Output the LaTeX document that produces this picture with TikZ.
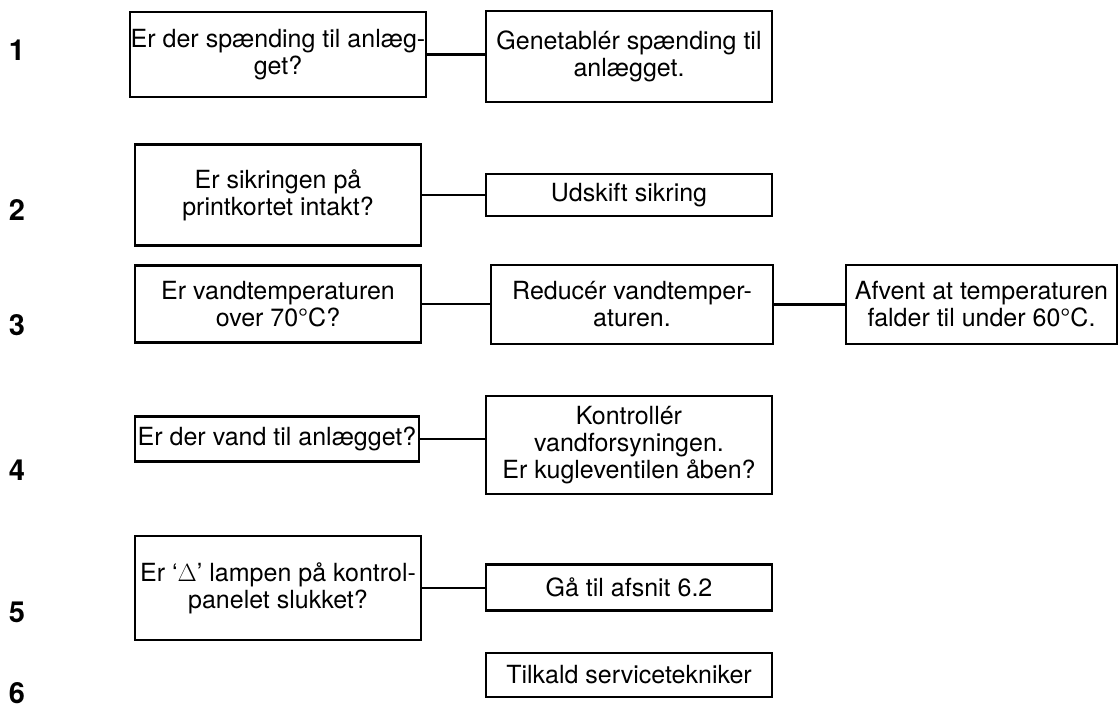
\documentclass[tikz,border=0pt]{standalone}
\usepackage{fontspec}
\setmainfont{TeX Gyre Heros}
\usetikzlibrary{positioning}

\begin{document}
\begin{tikzpicture}[x=1pt, y=1pt, line width=2.3pt]
 % Define block styles
	\tikzstyle{block} = [rectangle, draw, align=center, inner sep=1pt, font=\fontsize{25}{27}\selectfont]
	\tikzstyle{trin} = [font=\bfseries\fontsize{29}{29}\selectfont]
	\tikzstyle{line} = [draw]
	\useasboundingbox (0,0) rectangle (1118,715);
%%====Numre i venstre side===============================================================
	\node	[trin]	(t1)	at (17,665)	{1};
	\node	[trin]	(t2)	at (17,505)	{2};
	\node	[trin]	(t3)	at (17,390)	{3};
	\node	[trin]	(t4)	at (17,245)	{4};
	\node	[trin]	(t5)	at (17,103)	{5};
	\node	[trin]	(t6)	at (17,22)	{6};
%%====Spoergsmaal og handlinger===============================================================
	\node	[block, minimum width=286pt, minimum height=85pt]	(spaending)	at (278,660.5)	{Er der spænding til anlæg-\\get?};
	\node	[block, minimum width=286pt, minimum height=91pt]	(genetabler)	at (629,658.5)	{Genetablér spænding til\\anlægget.};
	\node	[block, minimum width=286pt, minimum height=101pt]	(sikring)	at (278,520)	{Er sikringen på\\printkortet intakt?};
	\node	[block, minimum width=286pt, minimum height=42pt]	(udskift)	at (629,520)	{Udskift sikring};
	\node	[block, minimum width=286pt, minimum height=77pt]	(temp)	at (278,411)	{Er vandtemperaturen\\over 70°C?};
	\node	[block, minimum width=282pt, minimum height=79pt]	(reducer)	at (632,410.5)	{Reducér vandtemper-\\aturen.};
	\node	[block, minimum width=271pt, minimum height=79pt]	(afvent)	at (981.5,410.5)	{Afvent at temperaturen\\falder til under 60°C.};
	\node	[block, minimum width=284pt, minimum height=45pt]	(vand)	at (277,276)	{Er der vand til anlægget?};
	\node	[block, minimum width=286pt, minimum height=98pt]	(kontrol)	at (629,270)	{Kontrollér\\vandforsyningen.\\Er kugleventilen åben?};
	\node	[block, minimum width=286pt, minimum height=104pt]	(lampe)	at (278,127)	{Er ‘$\Delta$’ lampen på kontrol-\\panelet slukket?};
	\node	[block, minimum width=286pt, minimum height=46pt]	(afsnit)	at (629,127.5)	{Gå til afsnit 6.2};
	\node	[block, minimum width=286pt, minimum height=44pt]	(service)	at (629,40)	{Tilkald servicetekniker};
%%====Forbindelser===============================================================
	\path [line] (spaending.east) -- (spaending.east -| genetabler.west);
	\path [line] (sikring) -- (sikring -| udskift.west);
	\path [line] (temp) -- (temp -| reducer.west);
	\path [line] (reducer) -- (afvent);
	\path [line] (vand) -- (vand -| kontrol.west);
	\path [line] (lampe) -- (lampe -| afsnit.west);
\end{tikzpicture}
\end{document}
